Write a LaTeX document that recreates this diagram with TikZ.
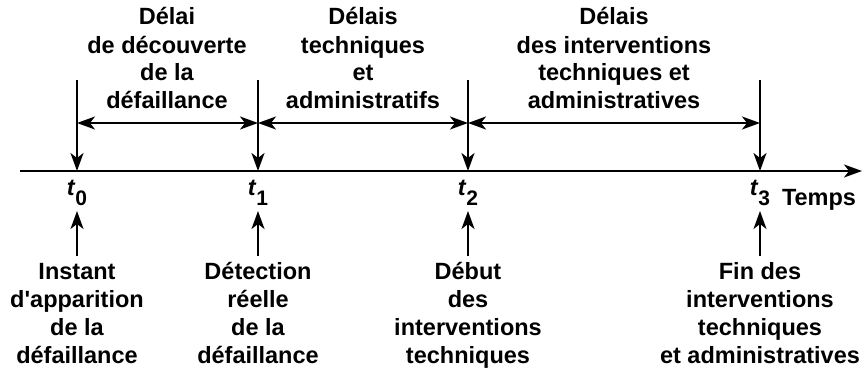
\documentclass[tikz,border=0pt]{standalone}
\usepackage{fontspec}
\setmainfont{Liberation Sans}
\usetikzlibrary{arrows.meta}
\begin{document}
\begin{tikzpicture}[every node/.style={font=\bfseries\fontsize{11.75}{14}\selectfont, align=center, inner sep=0pt}, x=0.5pt, y=-0.5pt, line width=1pt, >={Stealth[length=9pt,width=6.5pt,inset=2.5pt]}]
	\useasboundingbox (0,0) rectangle (867,369);
	\def\axe{171}
	\def\fl{123}
	\def\ti#1{\textit{t}\raisebox{-5pt}{\fontsize{10.5}{12}\selectfont #1}}
	\coordinate (debut) at (20,\axe);
	\coordinate (fin) at (862,\axe);
	\draw[->] (debut) -- (fin);
	\node[anchor=base west] (temps) at (781,205) {Temps};
	\foreach \n/\x in {0/77, 1/258, 2/468, 3/760}
	{
		\coordinate (t\n) at (\x,\axe);
		\coordinate (h\n) at (\x,80);
		\coordinate (m\n) at (\x,\fl);
		\coordinate (b\n) at (\x,256);
		\coordinate (a\n) at (\x,211);
		\draw[->] (h\n) -- (t\n);
		\draw[->] (b\n) -- (a\n);
		\node[anchor=base] (lt\n) at (\x,195) {\ti{\n}};
	}
	\draw[<->] (m0) -- (m1);
	\draw[<->] (m1) -- (m2);
	\draw[<->] (m2) -- (m3);
	% delais
	\node[anchor=base] (d1) at (167,109) {D\'elai\\de d\'ecouverte\\de la\\d\'efaillance};
	\node[anchor=base] (d2) at (363,109) {D\'elais\\techniques\\et\\administratifs};
	\node[anchor=base] (d3) at (614,109) {D\'elais\\des interventions\\techniques et\\administratives};
	% instants
	\node[anchor=base] (i0) at (77,363) {Instant\\d\textquotesingle apparition\\de la\\d\'efaillance};
	\node[anchor=base] (i1) at (258,363) {D\'etection\\r\'eelle\\de la\\d\'efaillance};
	\node[anchor=base] (i2) at (468,363) {D\'ebut\\des\\interventions\\techniques};
	\node[anchor=base] (i3) at (760,363) {Fin des\\interventions\\techniques\\et administratives};
\end{tikzpicture}
\end{document}
